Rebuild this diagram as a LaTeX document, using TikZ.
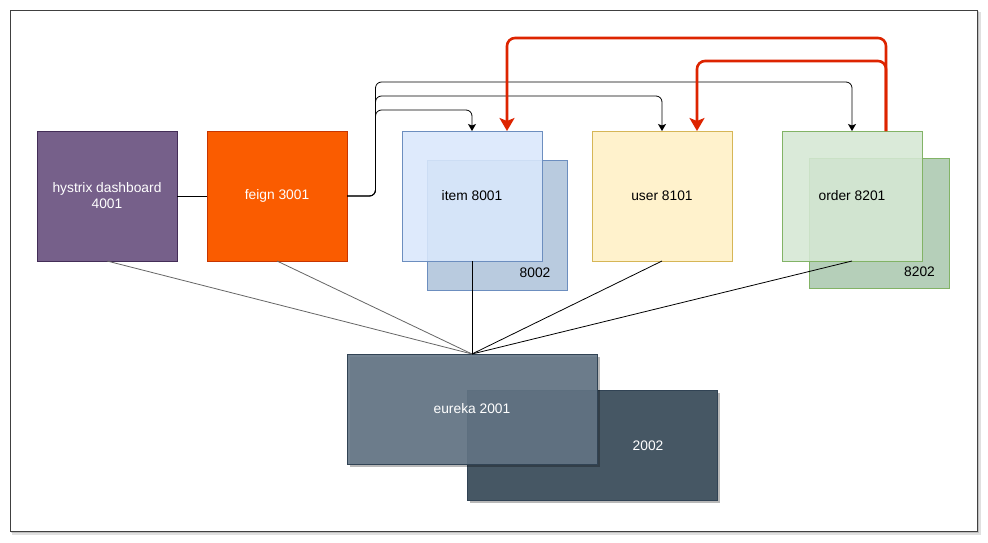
\documentclass[tikz,border=0pt]{standalone}
\usepackage{fontspec}
\setmainfont{Liberation Sans}
\usetikzlibrary{arrows.meta,shadows}
\definecolor{hysfill}{HTML}{76608A}
\definecolor{hysdraw}{HTML}{432D57}
\definecolor{feignfill}{HTML}{FA5C00}
\definecolor{feigndraw}{HTML}{C73500}
\definecolor{itemfill}{HTML}{DAE8FC}
\definecolor{itemdraw}{HTML}{6C8EBF}
\definecolor{itemtwo}{HTML}{B9CBDF}
\definecolor{userfill}{HTML}{FFF2CC}
\definecolor{userdraw}{HTML}{D6B656}
\definecolor{orderfill}{HTML}{D5E8D4}
\definecolor{orderdraw}{HTML}{82B366}
\definecolor{ordertwo}{HTML}{B5CFB9}
\definecolor{eonefill}{HTML}{647687}
\definecolor{etwofill}{HTML}{465764}
\definecolor{edraw}{HTML}{314354}
\definecolor{redline}{HTML}{DD2400}
\definecolor{grayline}{HTML}{666666}
\begin{document}
\begin{tikzpicture}[x=1pt,y=-1pt,
  font=\fontsize{13.8}{16}\selectfont,
  box/.style={draw, line width=0.8pt, minimum width=140pt, minimum height=130pt,
    inner sep=0pt, outer sep=0pt, align=center},
  ebox/.style={draw=edraw, line width=0.8pt, minimum width=250pt, minimum height=110pt,
    inner sep=0pt, outer sep=0pt, align=center, text=white,
    drop shadow={shadow xshift=3pt, shadow yshift=-3pt, opacity=0.28, fill=black}},
  conn/.style={draw=black, line width=0.8pt},
  blackarrow/.style={conn, rounded corners=6pt, -{Stealth[length=7pt,width=8pt,inset=1.5pt]}},
  redarrow/.style={draw=redline, line width=2.6pt, rounded corners=8pt,
    -{Stealth[length=13pt,width=15pt,inset=3pt]}},
  plainlabel/.style={inner sep=0pt}
]
\useasboundingbox (0,0) rectangle (988,543);
% frame with shadow
\fill[black, opacity=0.12] (12,12) rectangle (981,535);
\fill[black, opacity=0.15] (11,11) rectangle (979,533);
\draw[fill=white, draw=black!75, line width=0.8pt] (10,10) rectangle (977,531);

% left nodes
\node[box, fill=hysfill, draw=hysdraw, text=white] (hys) at (107,196) {hystrix dashboard\\4001};
\node[box, fill=feignfill, draw=feigndraw, text=white] (feign) at (277,196) {feign 3001};

% item
\node[box, fill=itemtwo, draw=itemdraw] (itemb) at (497,225) {};
\node[box, fill=itemfill, fill opacity=0.88, text opacity=1, draw=itemdraw] (item) at (472,196) {item 8001};
\node[plainlabel] (litemb) at (535,273) {8002};

% user
\node[box, fill=userfill, draw=userdraw] (user) at (662,196) {user 8101};

% order
\node[box, fill=ordertwo, draw=orderdraw] (orderb) at (879,223) {};
\node[box, fill=orderfill, fill opacity=0.88, text opacity=1, draw=orderdraw] (order) at (852,196) {order 8201};
\node[plainlabel] (lorderb) at (919.5,272) {8202};

% eureka
\node[ebox, fill=etwofill] (etwo) at (592,445) {};
\node[plainlabel, text=white] (letwo) at (648,446) {2002};
\node[ebox, fill=eonefill, fill opacity=0.9, text opacity=1] (eone) at (472,409) {eureka 2001};

% connectors to eureka
\draw[conn, draw=grayline] (hys.south) -- (eone.north);
\draw[conn, draw=grayline] (feign.south) -- (eone.north);
\draw[conn] (item.south) -- (eone.north);
\draw[conn] (user.south) -- (eone.north);
\draw[conn] (order.south) -- (eone.north);

% hystrix - feign
\draw[conn] (hys.east) -- (feign.west);

% feign branches
\coordinate (trunk) at (375.5,196);
\draw[blackarrow] (feign.east) -- (trunk) -- (375.5,110) -- (item.north |- 0,110) -- (item.north);
\draw[blackarrow] (feign.east) -- (trunk) -- (375.5,96) -- (user.north |- 0,96) -- (user.north);
\draw[blackarrow] (feign.east) -- (trunk) -- (375.5,82) -- (order.north |- 0,82) -- (order.north);

% red arrows from order
\draw[redarrow] ([xshift=34pt]order.north) -- ++(0,-93) -| ([xshift=35pt]item.north);
\draw[redarrow] ([xshift=34pt]order.north) -- ++(0,-70) -| ([xshift=35pt]user.north);
\end{tikzpicture}
\end{document}
